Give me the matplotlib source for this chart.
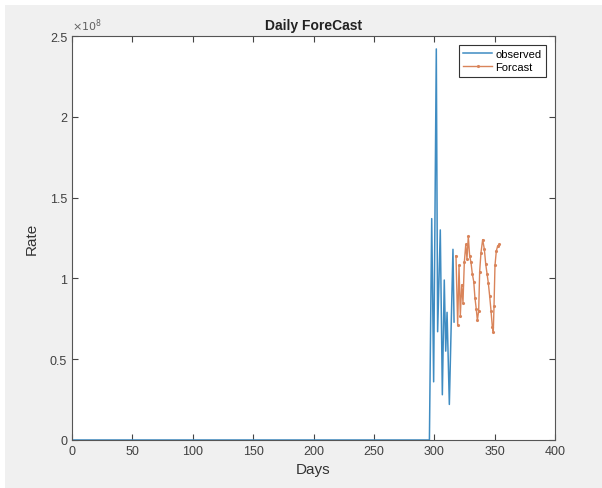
import matplotlib
matplotlib.use("Agg")
import matplotlib.pyplot as plt
from matplotlib.patches import Rectangle
from matplotlib.ticker import FuncFormatter

plt.rcParams['font.family'] = ['Liberation Sans Narrow', 'Liberation Sans', 'DejaVu Sans']

# observed series: flat at zero until day ~296, then the burst
obs_days = [0, 296.0, 297.9, 299.5, 301.7, 302.8, 305.0, 306.7, 308.3, 309.5,
            310.6, 312.5, 315.5, 316.4]
obs_vals = [0, 0, 1.37e8, 0.36e8, 2.42e8, 0.67e8, 1.30e8, 0.28e8, 0.99e8, 0.55e8,
            0.79e8, 0.22e8, 1.18e8, 0.73e8]

# forecast series
fc_days = [318.0, 319.4, 320.5, 321.6, 322.7, 323.8, 324.9, 326.1, 327.1, 328.2,
           329.3, 330.4, 331.5, 332.7, 333.7, 334.8, 335.7, 336.8, 337.6, 338.7,
           340.1, 341.5, 342.6, 343.7, 344.8, 345.9, 347.0, 348.1, 348.9, 349.5,
           350.3, 351.4, 352.5, 353.9]
fc_vals = [1.14e8, 0.71e8, 1.08e8, 0.77e8, 0.96e8, 0.85e8, 1.10e8, 1.21e8, 1.12e8, 1.26e8,
           1.14e8, 1.10e8, 1.03e8, 0.98e8, 0.88e8, 0.81e8, 0.74e8, 0.80e8, 1.04e8, 1.16e8,
           1.24e8, 1.18e8, 1.09e8, 1.03e8, 0.97e8, 0.89e8, 0.80e8, 0.70e8, 0.67e8, 0.83e8,
           1.08e8, 1.17e8, 1.20e8, 1.21e8]

x_ticks = [0, 50, 100, 150, 200, 250, 300, 350, 400]
y_ticks = [0, 0.5e8, 1e8, 1.5e8, 2e8, 2.5e8]

W, H = 602, 489
fig = plt.figure(figsize=(W / 100, H / 100), dpi=100, facecolor='white')
# grey MATLAB figure window inside a thin white border
fig.patches.append(Rectangle((5 / W, 0), 1 - 5 / W, 1 - 6 / H,
                             transform=fig.transFigure, facecolor='#f0f0f0',
                             edgecolor='none', zorder=-10))

ax = fig.add_axes([72 / W, 1 - 441 / H, (555 - 72) / W, (441 - 37) / H])
ax.set_facecolor('white')

ax.plot(obs_days, obs_vals, color='#3f8cc2', lw=1.1, label='observed')
ax.plot(fc_days, fc_vals, color='#d9845a', lw=1.0, marker='.', ms=2.5,
        label='Forcast')

ax.set_xlim(0, 400)
ax.set_ylim(0, 2.5e8)
ax.set_xticks(x_ticks)
ax.set_yticks(y_ticks)
ax.yaxis.set_major_formatter(FuncFormatter(lambda v, p: '%g' % (v / 1e8)))
ax.text(0.0, 1.008, r'$\times10^{8}$', transform=ax.transAxes, fontsize=8,
        color='#606060', ha='left', va='bottom')

ax.tick_params(direction='in', length=4, width=0.8, color='#444444',
               labelcolor='#404040', labelsize=9, top=True, right=True)
for s in ax.spines.values():
    s.set_color('#555555')
    s.set_linewidth(0.8)

ax.set_xlabel('Days', fontsize=11, color='#333333', labelpad=4)
ax.set_ylabel('Rate', fontsize=11, color='#333333', labelpad=8)
ax.set_title('Daily ForeCast', fontsize=10, fontweight='bold', color='#222222', pad=5)

leg = ax.legend(loc='upper right', fontsize=8, handlelength=2.6, fancybox=False,
                framealpha=1, borderpad=0.4, labelspacing=0.25, handletextpad=0.3,
                borderaxespad=0.8)
leg.get_frame().set_edgecolor('#333333')
leg.get_frame().set_linewidth(0.8)

plt.savefig('out.png', dpi=100, facecolor=fig.get_facecolor())
